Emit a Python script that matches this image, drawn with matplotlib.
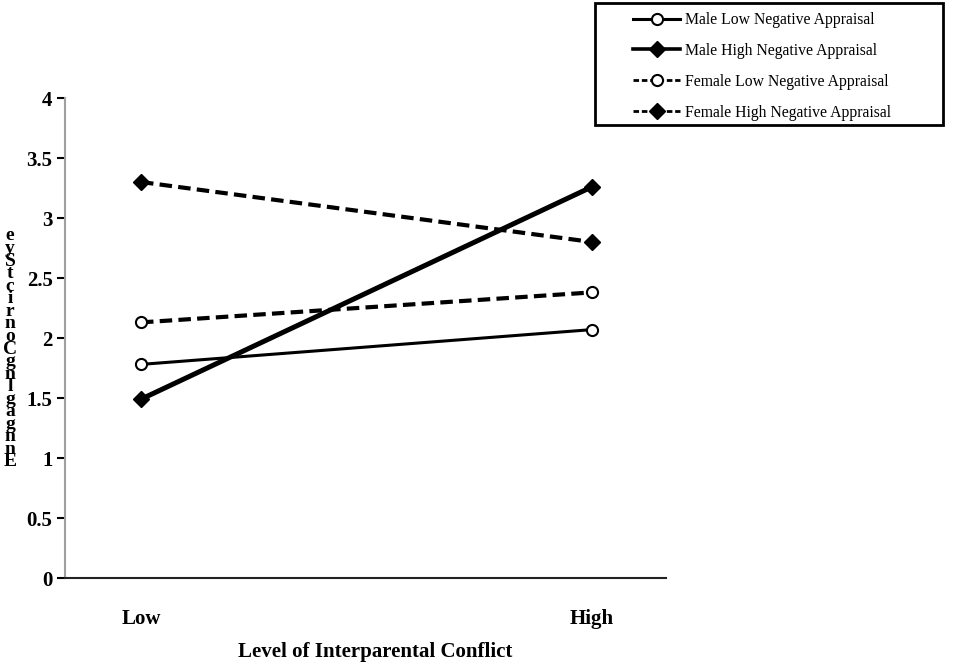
import matplotlib
matplotlib.use("Agg")
import matplotlib.pyplot as plt
from matplotlib.lines import Line2D
from matplotlib.patches import Rectangle

conflict_levels = ["Low", "High"]
male_low_na = [1.78, 2.07]
male_high_na = [1.49, 3.26]
female_low_na = [2.13, 2.38]
female_high_na = [3.30, 2.80]
series_labels = ["Male Low Negative Appraisal", "Male High Negative Appraisal",
                 "Female Low Negative Appraisal", "Female High Negative Appraisal"]
y_ticks = [0, 0.5, 1, 1.5, 2, 2.5, 3, 3.5, 4]

# the garbled stacked y label as it appears in the original (top to bottom)
ylabel_glyphs = "eyStcirnoCgnlgagnnE"

plt.rcParams["font.family"] = ["Liberation Serif", "DejaVu Serif"]

W, H = 964, 670
fig = plt.figure(figsize=(W / 100, H / 100), dpi=100)
ax = fig.add_axes([65 / W, 1 - 578 / H, (666 - 65) / W, (578 - 98) / H])

x = [0, 1]
ax.plot(x, male_low_na, color="black", lw=2.2, marker="o", ms=8,
        mfc="white", mec="black", mew=1.5)
ax.plot(x, male_high_na, color="black", lw=3.6, marker="D", ms=8,
        mfc="black", mec="black")
ax.plot(x, female_low_na, color="black", lw=3.0, ls=(0, (3, 1.5)), marker="o", ms=8,
        mfc="white", mec="black", mew=1.5)
ax.plot(x, female_high_na, color="black", lw=3.0, ls=(0, (3, 1.5)), marker="D", ms=8,
        mfc="black", mec="black")

ax.set_xlim(-0.1685, 1.164)
ax.set_ylim(0, 4)
ax.set_yticks(y_ticks)
ax.set_yticklabels([f"{v:g}" for v in y_ticks], fontsize=15, fontweight="bold")
ax.set_xticks(x)
ax.set_xticklabels(conflict_levels, fontsize=15, fontweight="bold")
ax.tick_params(axis="x", length=0, pad=22)
ax.tick_params(axis="y", length=6, width=1.5, direction="out", pad=3)
for s in ["top", "right"]:
    ax.spines[s].set_visible(False)
ax.spines["left"].set_color("#a0a0a0")
ax.spines["left"].set_linewidth(1.5)
ax.spines["bottom"].set_color("#222222")
ax.spines["bottom"].set_linewidth(1.5)

fig.text(375 / W, 1 - 652 / H, "Level of Interparental Conflict",
         ha="center", va="center", fontsize=15, fontweight="bold")

# stacked letters, one per text, squeezed like the original
top, bottom = 236, 462
step = (bottom - top) / (len(ylabel_glyphs) - 1)
for i, ch in enumerate(ylabel_glyphs):
    fig.text(10 / W, 1 - (top + i * step) / H, ch, ha="center", va="center",
             fontsize=14, fontweight="bold")

handles = [
    Line2D([], [], color="black", lw=2.2, marker="o", ms=8, mfc="white", mec="black", mew=1.5),
    Line2D([], [], color="black", lw=2.6, marker="D", ms=8, mfc="black", mec="black"),
    Line2D([], [], color="black", lw=2.0, ls=(0, (2, 1)), marker="o", ms=8, mfc="white", mec="black", mew=1.5),
    Line2D([], [], color="black", lw=2.0, ls=(0, (2, 1)), marker="D", ms=8, mfc="black", mec="black"),
]
fig.patches.append(Rectangle((595 / W, 1 - 125 / H), (943 - 595) / W, 122 / H,
                             transform=fig.transFigure, fill=False,
                             edgecolor="black", linewidth=2))
fig.legend(handles, series_labels, loc="upper left",
           bbox_to_anchor=(633 / W, 1 - 12 / H), fontsize=11.3,
           frameon=False, handlelength=3.0,
           labelspacing=0.95, borderpad=0, handletextpad=0.3,
           borderaxespad=0)

fig.savefig("out.png", dpi=100, facecolor="white")
